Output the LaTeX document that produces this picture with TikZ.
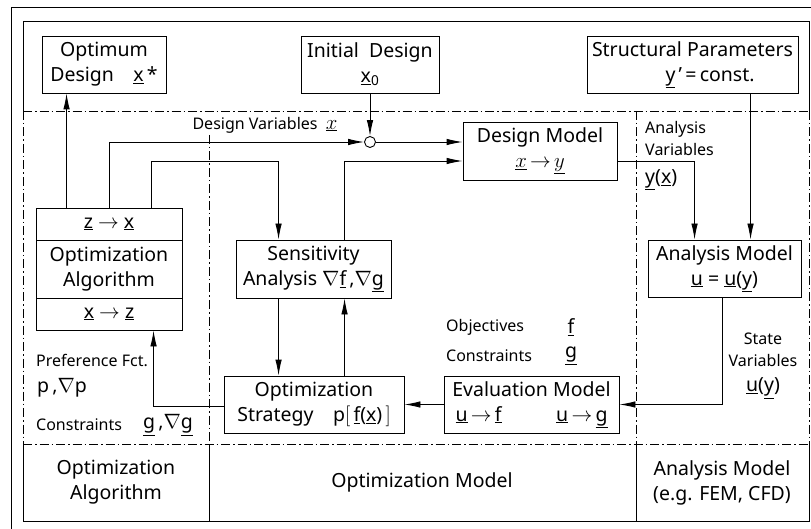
\documentclass[tikz,border=0pt]{standalone}
\usepackage{fontspec}
\setmainfont{Noto Sans}
\usetikzlibrary{arrows.meta,calc}
\newcommand{\mainsz}{\fontsize{19.5}{25}\selectfont}
\newcommand{\smallsz}{\fontsize{16}{22}\selectfont}
\newcommand{\uv}[1]{\underline{#1}}
\newcommand{\mvx}{{\fontsize{21}{25}\selectfont$\underline{x}$}}
\newcommand{\mvy}{{\fontsize{21}{25}\selectfont$\underline{y}$}}
\tikzset{
  box/.style={draw, line width=0.9pt, align=center, inner sep=0pt, font=\mainsz},
  conn/.style={line width=0.9pt},
  arr/.style={conn, -{Latex[length=16pt,width=6.5pt]}},
  dashdot/.style={line width=0.8pt, dash pattern=on 9pt off 3pt on 1.5pt off 3pt},
  frame/.style={line width=0.9pt},
  lbl/.style={inner sep=0pt, font=\smallsz},
  lblbig/.style={inner sep=0pt, font=\mainsz},
}
\begin{document}
\begin{tikzpicture}[x=1pt,y=-1pt]
\useasboundingbox (0,0) rectangle (811,529);
\begin{scope}
\clip (0,0) rectangle (811,529);
% outer frame (cropped)
\draw[frame] (11,7) rectangle (840,560);
\end{scope}
% inner frame solid parts
\coordinate (tl) at (23,21);
\coordinate (tr) at (809,21);
\coordinate (ml) at (23,111);
\coordinate (mr) at (809,111);
\coordinate (bl) at (23,444);
\coordinate (br) at (809,444);
\coordinate (ll) at (23,521);
\coordinate (lr) at (809,521);
\draw[frame] (ml) -- (tl) -- (tr) -- (mr);
\draw[frame] (bl) -- (ll) -- (lr) -- (br);
\draw[dashdot] (ml) -- (mr);
\draw[dashdot] (bl) -- (br);
\draw[dashdot] (ml) -- (bl);
\draw[dashdot] (mr) -- (br);
% column separators
\coordinate (c1t) at (209,135);
\coordinate (c1b) at (209,444);
\coordinate (c1e) at (209,521);
\coordinate (c2t) at (636,111);
\coordinate (c2b) at (636,444);
\coordinate (c2e) at (636,521);
\draw[dashdot] (c1t) -- (c1b);
\draw[frame] (c1b) -- (c1e);
\draw[dashdot] (c2t) -- (c2b);
\draw[frame] (c2b) -- (c2e);

% boxes
\node[box, minimum width=124pt, minimum height=57pt] (opt) at (104,64.5) {Optimum\\Design\quad\uv{x}\,*};
\node[box, minimum width=138pt, minimum height=57pt] (init) at (370,64.5) {Initial~~Design\\\uv{x}\textsubscript{0}};
\node[box, minimum width=211pt, minimum height=57pt] (struct) at (692.5,64.5) {Structural Parameters\\\hspace*{1.8em}\uv{y}\,'\,=\,const.};
\node[draw, circle, minimum size=11pt, inner sep=0pt, line width=0.9pt] (circ) at (370,142) {};
\node[box, minimum width=154pt, minimum height=58pt] (dm) at (540,151) {Design Model\\\mvx\,$\rightarrow$\,\mvy};
\node[box, minimum width=146pt, minimum height=32pt] (algtop) at (109,224) {\uv{z} $\rightarrow$ \uv{x}};
\node[box, minimum width=146pt, minimum height=58pt] (algmid) at (109,269) {Optimization\\Algorithm};
\node[box, minimum width=146pt, minimum height=32pt] (algbot) at (109,314) {\uv{x} $\rightarrow$ \uv{z}};
\node[box, minimum width=155pt, minimum height=58pt] (sens) at (313.5,269) {Sensitivity\\Analysis $\nabla$\uv{f}\,,$\nabla$\uv{g}};
\node[box, minimum width=153pt, minimum height=57pt] (ana) at (724.5,268.5) {Analysis Model\\\uv{u} = \uv{u}(\uv{y})};
\node[box, minimum width=180pt, minimum height=57pt] (strat) at (314,404.5) {Optimization\\Strategy\quad p$\bigl[$\,\uv{f}(\uv{x})\,$\bigr]$};
\node[box, minimum width=175pt, minimum height=57pt] (eval) at (531.5,404.5) {Evaluation Model\\\makebox[152pt]{\uv{u}\,$\rightarrow$\,\uv{f}\hfill\uv{u}\,$\rightarrow$\,\uv{g}}};

% connectors
\coordinate (upper) at (0,161);
\draw[arr] ([xshift=31pt]algtop.north west) -- ([xshift=31pt]algtop.north west |- opt.south);
\draw[arr] ([xshift=74pt]algtop.north west) |- (circ.west);
\draw[arr] (init.south) -- (circ.north);
\draw[arr] (circ.east) -- (circ.east -| dm.west);
\draw[arr] ([xshift=116pt]algtop.north west) |- ([xshift=43pt]sens.north west |- upper) -- ([xshift=43pt]sens.north west);
\draw[arr] ([xshift=109pt]sens.north west) |- (dm.west |- upper);
\draw[arr] (dm.east |- upper) -| ([xshift=47pt]ana.north west);
\draw[arr] ([xshift=164pt]struct.south west) -- ([xshift=103pt]ana.north west);
\draw[arr] ([xshift=43pt]sens.south west) -- ([xshift=43pt]sens.south west |- strat.north);
\draw[arr] ([xshift=109pt]sens.south west |- strat.north) -- ([xshift=109pt]sens.south west);
\draw[arr] ([yshift=-1.5pt]strat.west) -| ([xshift=118pt]algbot.south west);
\draw[arr] (eval.west) -- (eval.west -| strat.east);
\draw[arr] ([xshift=75pt]ana.south west) |- (eval.east);

% labels
\node[lbl] (dv) at (265,125) {Design Variables~~\mvx};
\node[lbl, anchor=west, align=left] (av) at (645,139) {Analysis\\Variables};
\node[lblbig, anchor=west] (yx) at (645,180) {\uv{y}(\uv{x})};
\node[lbl, anchor=west] (obj) at (446,327) {Objectives};
\node[lblbig] (objf) at (571,327) {\uv{f}};
\node[lbl, anchor=west] (con) at (446,356) {Constraints};
\node[lblbig] (cong) at (571,356) {\uv{g}};
\node[lbl, align=center] (sv) at (763,350) {State\\Variables};
\node[lblbig] (uy) at (763,388) {\uv{u}(\uv{y})};
\node[lbl, anchor=west] (pref) at (36,360) {Preference Fct.};
\node[lblbig, anchor=west] (pp) at (37,388) {p\,,$\nabla$p};
\node[lbl, anchor=west] (con2) at (36,425) {Constraints};
\node[lblbig] (gg) at (168,425) {\uv{g}\,,$\nabla$\uv{g}};
\node[lblbig, align=center] (b1) at (116,482.5) {Optimization\\Algorithm};
\node[lblbig] (b2) at (422,482.5) {Optimization Model};
\node[lblbig, align=center] (b3) at (722,482.5) {Analysis Model\\(e.g. FEM, CFD)};
\end{tikzpicture}
\end{document}
